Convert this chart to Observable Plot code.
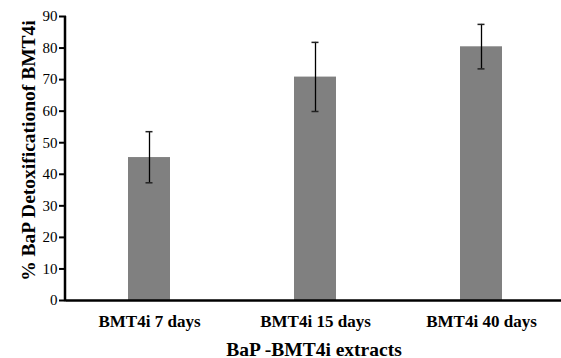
<!DOCTYPE html>
<html>
<head>
<meta charset="utf-8">
<script src="https://cdn.jsdelivr.net/npm/d3@7"></script>
<script src="https://cdn.jsdelivr.net/npm/@observablehq/plot@0.6"></script>
<style>
  html, body { margin: 0; padding: 0; background: #fff; }
  #chart svg { font-family: "Liberation Serif", "Times New Roman", serif; }
  g[aria-label="x-axis tick label"] text { font-weight: bold; font-size: 17px; }
  g[aria-label="x-axis label"] text { font-weight: bold; font-size: 19.5px; }
  g[aria-label="y-axis tick label"] text { font-size: 15px; fill: #000; }
</style>
</head>
<body>
<div id="chart"></div>
<script>
const categories = ["BMT4i 7 days", "BMT4i 15 days", "BMT4i 40 days"];
const values = [45.3, 70.8, 80.4];
const errLow = [37.3, 59.9, 73.4];
const errHigh = [53.5, 81.8, 87.5];
const yTicks = [0, 10, 20, 30, 40, 50, 60, 70, 80, 90];
const yLabel = "% BaP Detoxificationof BMT4i";
const xLabel = "BaP -BMT4i extracts";

const data = categories.map((c, i) => ({cat: c, v: values[i], lo: errLow[i], hi: errHigh[i]}));

const chart = Plot.plot({
  width: 561,
  height: 358,
  marginTop: 16,
  marginBottom: 58,
  marginLeft: 66,
  marginRight: 0,
  style: {fontFamily: "'Liberation Serif', 'Times New Roman', serif", color: "#000", background: "#fff"},
  x: {domain: categories, range: [66, 564], paddingInner: 0.75, paddingOuter: 0.375},
  y: {domain: [0, 90], ticks: yTicks},
  marks: [
    Plot.barY(data, {x: "cat", y: "v", fill: "#808080"}),
    Plot.ruleX(data, {x: "cat", y1: "lo", y2: "hi", stroke: "#000", strokeWidth: 1.3}),
    Plot.tickY(data, {x: "cat", y: "lo", stroke: "#222", strokeWidth: 1.5, insetLeft: 17.5, insetRight: 17.5}),
    Plot.tickY(data, {x: "cat", y: "hi", stroke: "#222", strokeWidth: 1.5, insetLeft: 17.5, insetRight: 17.5}),
    Plot.axisY({ticks: yTicks, tickSize: 7, tickPadding: 2, tickFormat: d => d, label: null, strokeWidth: 2, stroke: "#000"}),
    Plot.axisX({tickSize: 0, tickPadding: 14, label: xLabel, labelAnchor: "center", labelArrow: "none", labelOffset: 55}),
    Plot.ruleY([0], {stroke: "#000", strokeWidth: 2.5}),
    Plot.text([yLabel], {frameAnchor: "left", text: d => d, rotate: -90, dx: -38, dy: -8, textAnchor: "middle", fontSize: 19.5, fontWeight: "bold", fill: "#000"})
  ]
});
// left axis line drawn from the library's y scale
const ys = chart.scale("y");
d3.select(chart).append("line")
  .attr("x1", 65).attr("x2", 65)
  .attr("y1", d3.min(ys.range)).attr("y2", d3.max(ys.range) + 1.25)
  .attr("stroke", "#000").attr("stroke-width", 2.5);
document.getElementById("chart").appendChild(chart);
</script>
</body>
</html>
